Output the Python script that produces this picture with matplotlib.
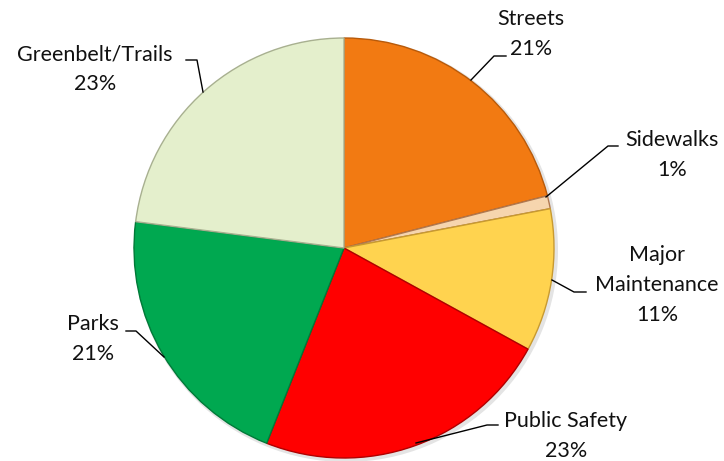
import matplotlib.pyplot as plt

# data
categorias = ['Streets', 'Sidewalks', 'Major\nMaintenance', 'Public Safety', 'Parks', 'Greenbelt/Trails']
porcentajes = [21, 1, 11, 23, 21, 23]
colores = ['#F27A12', '#F6D5AE', '#FFD34F', '#FF0000', '#00A850', '#E4EFCC']
bordes = ['#B85A0A', '#B07850', '#C89A30', '#B00000', '#007A38', '#A8B090']

# label positions (pixels) and leader lines: punto en la torta -> codo -> fin
etiquetas = [
    ((531, 34), [(471, 80), (494, 56), (506, 56)]),
    ((672, 155), [(546, 197), (608, 146), (618, 146)]),
    ((657, 285), [(552, 280), (574, 292), (586, 292)]),
    ((566, 436), [(416, 443), (487, 425), (498, 425)]),
    ((93, 339), [(164, 357), (136, 331), (126, 331)]),
    ((95, 69), [(203, 92), (197, 60), (186, 60)]),
]

W, H = 724, 461
fig = plt.figure(figsize=(W / 100, H / 100), dpi=100)
ax = fig.add_axes([0, 0, 1, 1])
ax.axis('off')

plt.rcParams['font.family'] = ['Lato', 'DejaVu Sans']

# sombra suave
sombra, _ = ax.pie([1], radius=212, center=(346, 250), colors=['#E4E4E4'],
                   wedgeprops=dict(linewidth=0))

# eje y invertido: startangle=-90 es arriba y counterclock=True va en sentido horario
cunas, _ = ax.pie(porcentajes, radius=210, center=(344, 248), startangle=-90,
                  counterclock=True, colors=colores,
                  wedgeprops=dict(linewidth=1.0))
for c, b in zip(cunas, bordes):
    c.set_edgecolor(b)

ax.set_xlim(0, W)
ax.set_ylim(H, 0)
ax.set_aspect('equal')

for nombre, pct, (pos, linea) in zip(categorias, porcentajes, etiquetas):
    xs = [p[0] for p in linea]
    ys = [p[1] for p in linea]
    ax.plot(xs, ys, color='black', linewidth=1.0)
    ax.text(pos[0], pos[1], f'{nombre}\n{pct}%', ha='center', va='center',
            fontsize=15.5, linespacing=1.6, color='#111111')

fig.savefig('out.png', dpi=100)
